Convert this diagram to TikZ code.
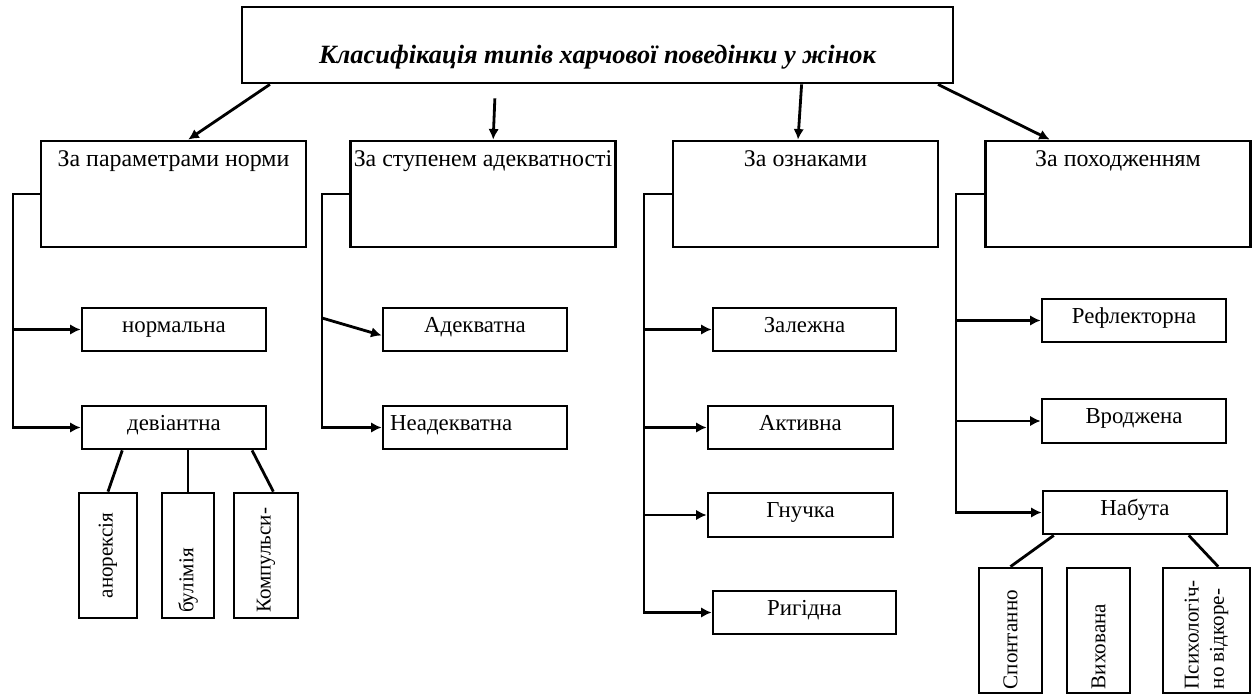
\documentclass[tikz,border=0pt]{standalone}
\usepackage{fontspec}
\setmainfont{Liberation Serif}
\usepackage{graphicx}
\usetikzlibrary{arrows.meta,calc}

\tikzset{
  box/.style={draw, line width=1.6pt, inner sep=0pt},
  headbox/.style={box, minimum width=5.3cm, minimum height=2.12cm},
  headtext/.style={anchor=north, yshift=-3pt, font=\fontsize{13.6}{16}\selectfont},
  titletext/.style={yshift=-0.24cm, font=\fontsize{15}{18}\selectfont\bfseries\itshape},
  item/.style={box, minimum width=3.68cm, minimum height=0.86cm, text height=1.2ex, text depth=0.5ex,
               font=\fontsize{13}{15}\selectfont},
  leftitem/.style={item, inner xsep=0.14cm, text width=3.4cm, align=left},
  vbox/.style={box, minimum height=2.5cm, font=\fontsize{12}{14.5}\selectfont},
  link/.style={line width=1.6pt},
  arr/.style={link, -{Latex[length=6pt,width=6pt]}},
}

\begin{document}
\begin{tikzpicture}[x=0.02cm, y=-0.02cm]
\useasboundingbox (0,0) rectangle (1258,695);

% Drawing title box
\node[box, minimum width=14.22cm, minimum height=1.52cm,
      label={[titletext]center:Класифікація типів харчової поведінки у жінок}] (top) at (597.5,45) {};

% Drawing level 1 boxes
\node[headbox, label={[headtext]north:За параметрами норми}] (norma) at (173.5,194) {};
\node[headbox, label={[headtext]north:За ступенем адекватності}] (adekv) at (483,194) {};
\node[headbox, label={[headtext]north:За ознаками}] (oznak) at (805.5,194) {};
\node[headbox, label={[headtext]north:За походженням}] (pokhod) at (1118,194) {};

% Drawing arrows from title
\draw[arr] ($(top.south west)!.041!(top.south east)$) -- ($(norma.north west)!.555!(norma.north east)$);
\draw[arr, shorten <=0.28cm] ($(top.south west)!.357!(top.south east)$) -- ($(adekv.north west)!.538!(adekv.north east)$);
\draw[arr] ($(top.south west)!.786!(top.south east)$) -- ($(oznak.north west)!.472!(oznak.north east)$);
\draw[arr] ($(top.south west)!.977!(top.south east)$) -- ($(pokhod.north west)!.245!(pokhod.north east)$);

% Drawing group: za parametramy normy
\node[item] (normal) at (174,329.5) {нормальна};
\node[item] (deviant) at (174,427.5) {девіантна};
\coordinate (normaBar) at (13,194);
\draw[arr] (norma.west) -- (normaBar) |- (deviant.west);
\draw[arr] (normaBar |- normal.west) -- (normal.west);

\node[vbox, minimum width=1.16cm] (anorex) at (108,555.5) {\rotatebox{90}{\parbox{2.3cm}{\centering анорексія}}};
\node[vbox, minimum width=1.04cm] (bulim) at (188,555.5) {\rotatebox{90}{\parbox{2.3cm}{\raggedright булімія}}};
\node[vbox, minimum width=1.28cm] (kompul) at (266,555.5) {\rotatebox{90}{\parbox{2.3cm}{\raggedright Компульси-}}};
\draw[link] ($(deviant.south west)!.223!(deviant.south east)$) -- (anorex.north);
\draw[link] (bulim.north |- deviant.south) -- (bulim.north);
\draw[link] ($(deviant.south west)!.918!(deviant.south east)$) -- ($(kompul.north west)!.61!(kompul.north east)$);

% Drawing group: za stupenem adekvatnosti
\node[item] (adekvatna) at (475,329.5) {Адекватна};
\node[leftitem] (neadekv) at (475,427.5) {Неадекватна};
\coordinate (adekvBar) at (322,194);
\coordinate (adekvKnee) at (322,318);
\draw[arr] (adekv.west) -- (adekvBar) |- (neadekv.west);
\draw[arr] (adekvKnee) -- ($(adekvatna.north west)!.63!(adekvatna.south west)$);

% Drawing group: za oznakamy
\node[item, minimum width=3.66cm] (zalezh) at (804.5,329.5) {Залежна};
\node[item, minimum width=3.7cm] (aktyv) at (800.5,427.5) {Активна};
\node[item, minimum width=3.7cm, minimum height=0.88cm] (hnuch) at (800.5,515) {Гнучка};
\node[item, minimum width=3.66cm] (ryhid) at (804.5,612.5) {Ригідна};
\coordinate (oznakBar) at (644,194);
\draw[arr] (oznak.west) -- (oznakBar) |- (ryhid.west);
\draw[arr] (oznakBar |- zalezh.west) -- (zalezh.west);
\draw[arr] (oznakBar |- aktyv.west) -- (aktyv.west);
\draw[arr] (oznakBar |- hnuch.west) -- (hnuch.west);

% Drawing group: za pokhodzhenniam
\node[item, minimum height=0.86cm] (reflek) at (1134,320.5) {Рефлекторна};
\node[item, minimum height=0.88cm] (vrodzh) at (1134,421) {Вроджена};
\node[item] (nabuta) at (1135,512.5) {Набута};
\coordinate (pokhodBar) at (956,194);
\draw[arr] (pokhod.west) -- (pokhodBar) |- (nabuta.west);
\draw[arr] (pokhodBar |- reflek.west) -- (reflek.west);
\draw[arr] (pokhodBar |- vrodzh.west) -- (vrodzh.west);

\node[vbox, minimum width=1.26cm] (spont) at (1010.5,630.5) {\rotatebox{90}{\parbox{2.35cm}{\raggedright Спонтанно}}};
\node[vbox, minimum width=1.26cm] (vykhov) at (1098.5,630.5) {\rotatebox{90}{\parbox{2.35cm}{\raggedright Вихована}}};
\node[vbox, minimum width=1.74cm] (psykh) at (1206.5,630.5) {\rotatebox{90}{\parbox{2.35cm}{\raggedright Психологіч-\\но відкоре-}}};
\draw[link] ($(nabuta.south west)!.065!(nabuta.south east)$) -- (spont.north);
\draw[link] ($(vykhov.north west)!.65!(vykhov.north east)$ |- nabuta.south) -- ($(vykhov.north west)!.65!(vykhov.north east)$);
\draw[link] ($(nabuta.south west)!.788!(nabuta.south east)$) -- ($(psykh.north west)!.63!(psykh.north east)$);
\end{tikzpicture}
\end{document}
